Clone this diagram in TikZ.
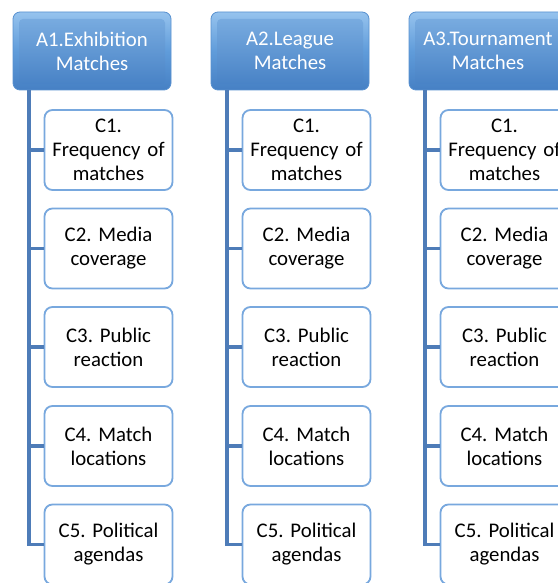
\documentclass[tikz,border=0pt]{standalone}
\usepackage{fontspec}
\setmainfont{Carlito}
\frenchspacing
\begin{document}
\definecolor{hdrtop}{RGB}{150,195,238}
\definecolor{hdrmid}{RGB}{96,156,218}
\definecolor{hdrbot}{RGB}{70,128,196}
\definecolor{hdredge}{RGB}{88,145,208}
\definecolor{trunk}{RGB}{78,124,184}
\definecolor{leafedge}{RGB}{120,168,222}
\tikzset{
  x=1pt, y=-1pt,
  header/.style={rounded corners=7pt, draw=hdredge, line width=0.8pt,
    top color=hdrtop, bottom color=hdrbot, middle color=hdrmid},
  headerbody/.style={rounded corners=4pt, top color=hdrmid!85!white, bottom color=hdrbot!90!hdrmid},
  headtext/.style={text=white, font=\fontsize{20.8}{24}\selectfont, align=center},
  leaf/.style={draw=leafedge, line width=1.8pt, fill=white, rounded corners=8pt,
    minimum width=128pt, minimum height=80pt, inner sep=0pt,
    font=\fontsize{20.8}{24}\selectfont, align=center, text width=126pt},
  link/.style={draw=trunk, line width=3.2pt}
}
\begin{tikzpicture}
\useasboundingbox (0,0) rectangle (557,583);
\fill[white] (0,0) rectangle (557,583);

% one column: header, trunk line, five criteria boxes
\foreach \col/\la/\lb in {0/A1.Exhibition/Matches, 1/A2.League/Matches, 2/A3.Tournament/Matches}{
  \begin{scope}[xshift=\col*198pt]
    % header box with bevelled look
    \path[header] (13,12) rectangle (171,90);
    \path[headerbody] (19,19) rectangle (165,84);
    \node[headtext] (h\col) at (92,51) {\la\\\lb};
    \coordinate (t\col) at (29,90);
    % criteria boxes
    \node[leaf] (c1\col) at (108.5,150) {C1.\\Frequency of\\matches};
    \node[leaf] (c2\col) at (108.5,248.5) {C2. Media\\coverage};
    \node[leaf] (c3\col) at (108.5,347) {C3. Public\\reaction};
    \node[leaf] (c4\col) at (108.5,446) {C4. Match\\locations};
    \node[leaf] (c5\col) at (108.5,544.5) {C5. Political\\agendas};
    % trunk and branches
    \draw[link] (t\col) -- (t\col |- c5\col.west) -- (c5\col.west);
    \foreach \k in {1,2,3,4}{
      \draw[link] (t\col |- c\k\col.west) -- (c\k\col.west);
    }
  \end{scope}
}
\end{tikzpicture}
\end{document}
